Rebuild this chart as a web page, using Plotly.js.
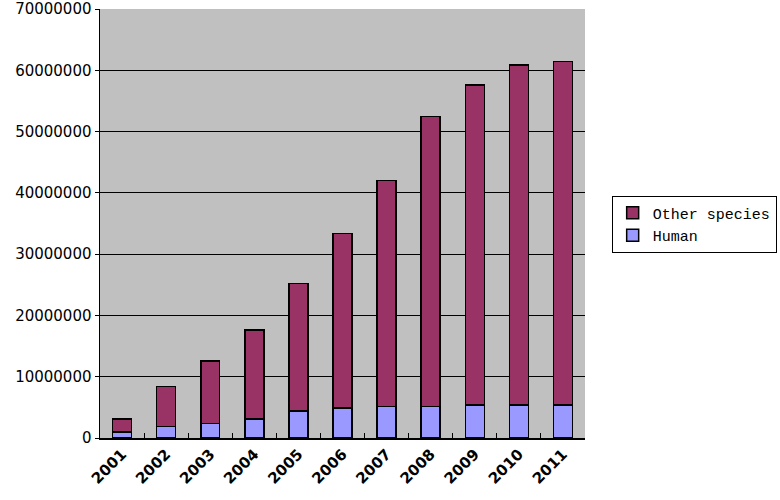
<!DOCTYPE html>
<html>
<head>
<meta charset="utf-8">
<script src="https://cdn.plot.ly/plotly-3.0.1.min.js"></script>
<style>
  html, body { margin: 0; padding: 0; background: #ffffff; }
  #plot { width: 780px; height: 500px; }
</style>
</head>
<body>
<div id="plot"></div>
<script>
// Years on the x axis
const years = ['2001', '2002', '2003', '2004', '2005', '2006', '2007', '2008', '2009', '2010', '2011'];

// Human sequences (bottom of each stack)
const human = [1000000, 1900000, 2400000, 3100000, 4400000, 4900000, 5100000, 5100000, 5400000, 5400000, 5400000];

// Other species (stacked on top)
const otherSpecies = [2100000, 6500000, 10200000, 14500000, 20800000, 28500000, 36900000, 47400000, 52200000, 55500000, 56000000];

const yTicks = [0, 10000000, 20000000, 30000000, 40000000, 50000000, 60000000, 70000000];

const humanTrace = {
    x: years,
    y: human,
    type: 'bar',
    name: 'Human',
    marker: { color: '#9999ff', line: { color: '#000000', width: 1.5 } }
};

const otherTrace = {
    x: years,
    y: otherSpecies,
    type: 'bar',
    name: 'Other species',
    marker: { color: '#993366', line: { color: '#000000', width: 1.5 } }
};

const layout = {
    width: 780,
    height: 500,
    margin: { l: 100, r: 195, t: 9, b: 62, autoexpand: false },
    paper_bgcolor: '#ffffff',
    plot_bgcolor: '#c0c0c0',
    barmode: 'stack',
    bargap: 0.57,
    showlegend: true,
    legend: {
        x: 1.055,
        y: 0.565,
        xanchor: 'left',
        yanchor: 'top',
        traceorder: 'reversed',
        bgcolor: '#ffffff',
        bordercolor: '#000000',
        borderwidth: 1,
        font: { family: 'Liberation Mono, monospace', size: 15, color: '#000000' },
        itemwidth: 30,
        tracegroupgap: 0
    },
    xaxis: {
        type: 'category',
        tickangle: -45,
        tickson: 'boundaries',
        ticks: 'inside',
        ticklen: 5,
        tickcolor: '#000000',
        showline: true,
        linecolor: '#000000',
        linewidth: 1.5,
        showgrid: false,
        automargin: false,
        tickfont: { family: 'DejaVu Sans, sans-serif', size: 15, color: '#000000', weight: 'bold' }
    },
    yaxis: {
        range: [0, 70000000],
        tickvals: yTicks,
        ticktext: yTicks.map(v => String(v)),
        ticks: 'outside',
        ticklen: 4,
        tickcolor: '#000000',
        showline: true,
        linecolor: '#000000',
        linewidth: 1.5,
        showgrid: true,
        gridcolor: '#000000',
        gridwidth: 1,
        zeroline: false,
        automargin: false,
        ticklabeloverflow: 'allow',
        tickfont: { family: 'DejaVu Sans, sans-serif', size: 15, color: '#000000' }
    }
};

Plotly.newPlot('plot', [humanTrace, otherTrace], layout, { displayModeBar: false, staticPlot: true });
</script>
</body>
</html>
